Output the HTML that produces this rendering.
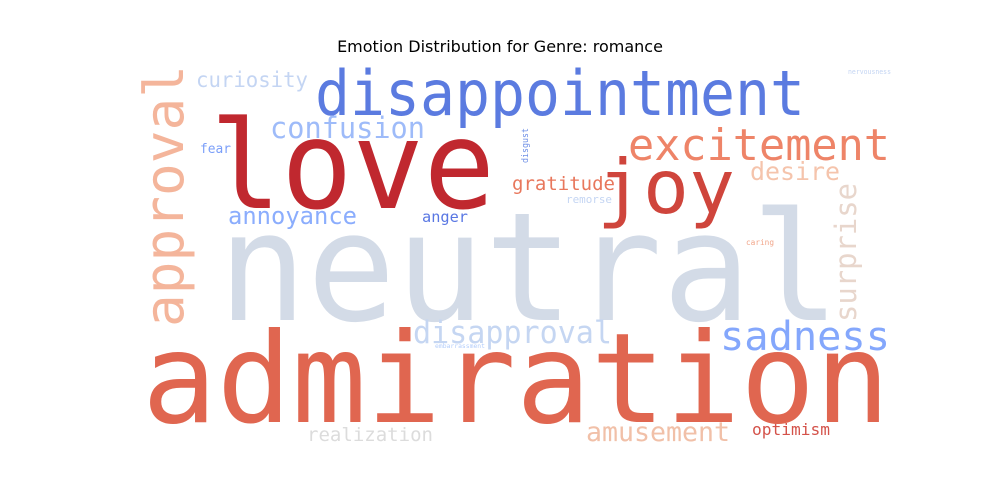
<!DOCTYPE html>
<html><head><meta charset="utf-8"><style>
html,body{margin:0;padding:0;background:#fff;}
svg{display:block;}
text.w{font-family:"DejaVu Sans Mono","Liberation Mono",monospace;}
</style></head><body>
<svg id="chart" width="1000" height="500" viewBox="0 0 1000 500" xmlns="http://www.w3.org/2000/svg">
<rect width="1000" height="500" fill="#ffffff"/>
<text x="500" y="52" text-anchor="middle" font-family="DejaVu Sans, Liberation Sans, sans-serif" font-size="16" fill="#000">Emotion Distribution for Genre: romance</text>
<g id="words"></g>
</svg>
<script>
const words = ["neutral","admiration","love","disappointment","joy","excitement","approval","curiosity","confusion","fear","disgust","gratitude","desire","remorse","annoyance","anger","surprise","caring","disapproval","sadness","embarrassment","nervousness","realization","amusement","optimism"];
const sizes = [151,125,122,62,75,44,54,21,29,13,9,19,25,11,24,15,29,8,31,40,6,7,19,27,16];
const colors = ["#d3dbe7","#e06650","#c0282f","#5b7be0","#cf453c","#ee8468","#f4b59b","#c4d5f3","#9ebbf9","#7b9ff9","#6e8fe6","#e8775c","#f5c4ac","#c4d5f3","#8badfd","#5977e3","#e8d6cc","#f2a68a","#c5d6f2","#84a7fc","#b3cdfb","#c4d5f3","#dcdcdc","#f1c0a8","#d4524a"];
const layout = [
 [218,320,622,0],[142,422,748,0],[210,208,285,0],[315,115,490,0],[597,213,138,0],
 [628,160,262,0],[183,327,262,1],[196,87,112,0],[270,138,155,0],[200,153,31,0],
 [528,163,35,1],[512,190,103,0],[750,180,90,0],[566,203,46,0],[228,224,129,0],
 [422,222,46,0],[856,322,139,1],[746,245,28,0],[413,343,199,0],[720,350,170,0],
 [435,348,50,0],[848,74,43,0],[307,441,126,0],[586,441,144,0],[752,435,78,0]
];
const g = document.getElementById('words');
const NS = 'http://www.w3.org/2000/svg';
words.forEach((w,i)=>{
  const [x,y,len,rot] = layout[i];
  const t = document.createElementNS(NS,'text');
  t.setAttribute('class','w');
  t.setAttribute('x',0);
  t.setAttribute('y',0);
  t.setAttribute('font-size',sizes[i]);
  t.setAttribute('fill',colors[i]);
  t.setAttribute('textLength',len);
  t.setAttribute('lengthAdjust','spacingAndGlyphs');
  t.setAttribute('transform','translate('+x+','+y+')'+(rot?' rotate(-90)':''));
  t.textContent = w;
  
  
  g.appendChild(t);
});
</script>
</body></html>
